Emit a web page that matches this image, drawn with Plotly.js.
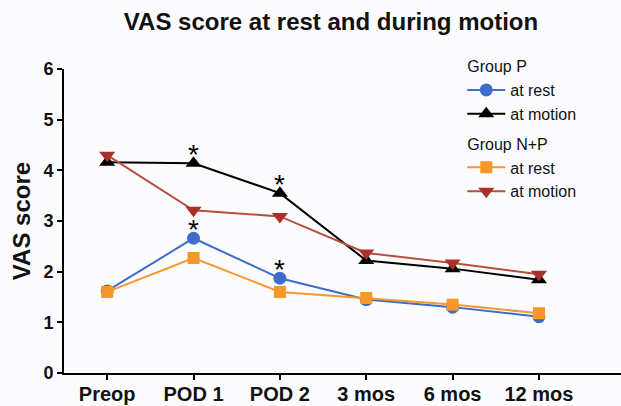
<!DOCTYPE html>
<html>
<head>
<meta charset="utf-8">
<script src="https://cdn.plot.ly/plotly-3.0.1.min.js"></script>
<style>html,body{margin:0;padding:0;background:#fcfcfe;}</style>
</head>
<body>
<div id="chart" style="width:621px;height:406px;"></div>
<script>
const categories = ["Preop", "POD 1", "POD 2", "3 mos", "6 mos", "12 mos"];
const pRest   = [1.62, 2.66, 1.87, 1.45, 1.30, 1.11];
const pMotion = [4.16, 4.14, 3.55, 2.22, 2.06, 1.84];
const npRest   = [1.60, 2.27, 1.60, 1.48, 1.35, 1.18];
const npMotion = [4.30, 3.21, 3.09, 2.37, 2.17, 1.95];
const starCats = ["POD 1", "POD 1", "POD 2", "POD 2"];
const starVals = [4.14, 2.66, 3.55, 1.87];
const yTicks = [0, 1, 2, 3, 4, 5, 6];

const traces = [
  {x: categories, y: pRest, name: "at rest", legendgroup: "P",
   legendgrouptitle: {text: "Group P", font: {size: 16, color: "#111"}},
   mode: "lines+markers", line: {color: "#3d6ccb", width: 2},
   marker: {symbol: "circle", size: 13, color: "#3d6ccb"}},
  {x: categories, y: pMotion, name: "at motion", legendgroup: "P",
   mode: "lines+markers", line: {color: "#000000", width: 2},
   marker: {symbol: "triangle-up", size: 14, color: "#000000"}},
  {x: categories, y: npRest, name: "at rest", legendgroup: "NP",
   legendgrouptitle: {text: "Group N+P", font: {size: 16, color: "#111"}},
   mode: "lines+markers", line: {color: "#f7962a", width: 2},
   marker: {symbol: "square", size: 12, color: "#f7962a"}},
  {x: categories, y: npMotion, name: "at motion", legendgroup: "NP",
   mode: "lines+markers", line: {color: "#b5503c", width: 2},
   marker: {symbol: "triangle-down", size: 14, color: "#a8322a"}}
];

const annotations = starCats.map((c, i) => ({
  x: c, y: starVals[i], xref: "x", yref: "y", text: "*",
  showarrow: false, yshift: 9,
  font: {family: "Arial, Liberation Sans, sans-serif", size: 28, color: "#000"}
}));

const layout = {
  width: 621, height: 406,
  paper_bgcolor: "#fcfcfe", plot_bgcolor: "#fcfcfe",
  margin: {l: 64, r: 0, t: 69, b: 33},
  font: {family: "Arial, Liberation Sans, sans-serif", color: "#000"},
  title: {text: "<b>VAS score at rest and during motion</b>", x: 0.533, xanchor: "center",
          y: 0.948, yanchor: "middle", font: {size: 24, color: "#111"}},
  xaxis: {type: "category", range: [-0.5, 5.95], showgrid: false, zeroline: false,
          showline: true, linecolor: "#000", linewidth: 2,
          ticks: "outside", ticklen: 5, tickwidth: 2, tickcolor: "#000",
          ticklabelstandoff: -3,
          tickfont: {size: 20, color: "#111", weight: "bold"}},
  yaxis: {range: [0, 6], tickvals: yTicks, showgrid: false, zeroline: false,
          showline: true, linecolor: "#000", linewidth: 2,
          ticks: "outside", ticklen: 5, tickwidth: 2, tickcolor: "#000",
          tickfont: {size: 18, color: "#111", weight: "bold"},
          title: {text: "<b>VAS score</b>", font: {size: 24, color: "#111"}, standoff: 6}},
  legend: {x: 0.715, xanchor: "left", y: 1.065, yanchor: "top",
           bgcolor: "rgba(0,0,0,0)", font: {size: 16, color: "#111"},
           tracegroupgap: 6, itemwidth: 38, groupclick: "toggleitem"},
  showlegend: true,
  annotations: annotations
};

Plotly.newPlot("chart", traces, layout, {displayModeBar: false, staticPlot: true});
</script>
</body>
</html>
